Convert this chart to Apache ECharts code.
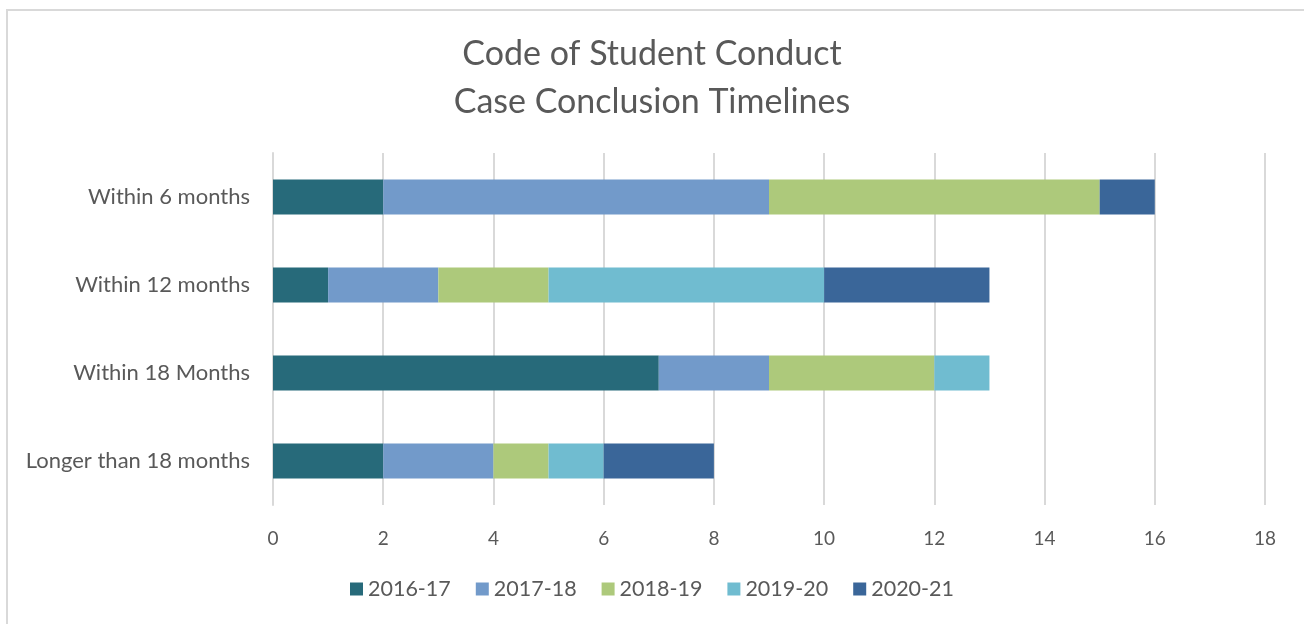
<!DOCTYPE html>
<html>
<head>
<meta charset="utf-8">
<script src="https://cdn.jsdelivr.net/npm/echarts@6/dist/echarts.min.js"></script>
<style>
  html, body { margin: 0; padding: 0; background: #fff; }
  #frame { position: absolute; left: 6px; top: 9px; width: 1310px; height: 630px; border: 2px solid #d9d9d9; box-sizing: border-box; }
  #chart { position: absolute; left: 0; top: 0; width: 1304px; height: 624px; }
</style>
</head>
<body>
<div id="frame"></div>
<div id="chart"></div>
<script>
const categories = ['Within 6 months', 'Within 12 months', 'Within 18 Months', 'Longer than 18 months']
const seriesNames = ['2016-17', '2017-18', '2018-19', '2019-20', '2020-21']
const y2016 = [2, 1, 7, 2]
const y2017 = [7, 2, 2, 2]
const y2018 = [6, 2, 3, 1]
const y2019 = [0, 5, 1, 1]
const y2020 = [1, 3, 0, 2]
const xTicks = [0, 2, 4, 6, 8, 10, 12, 14, 16, 18]

const colors = ['#276a7a', '#729aca', '#adc97b', '#70bcd0', '#3a6699']
const values = [y2016, y2017, y2018, y2019, y2020]
const font = 'Lato, "Open Sans", sans-serif'

const chart = echarts.init(document.getElementById('chart'))
chart.setOption({
  animation: false,
  textStyle: { fontFamily: font },
  title: {
    text: 'Code of Student Conduct\nCase Conclusion Timelines',
    left: 'center',
    top: 25,
    textStyle: { fontSize: 34, fontWeight: 'normal', color: '#595959', lineHeight: 48, fontFamily: font }
  },
  legend: {
    bottom: 19,
    left: 'center',
    itemWidth: 13,
    itemHeight: 13,
    itemGap: 25,
    icon: 'rect',
    textStyle: { fontSize: 21.5, color: '#595959', fontFamily: font },
    data: seriesNames
  },
  grid: { left: 273, right: 39, top: 153, height: 352, containLabel: false },
  xAxis: {
    type: 'value',
    min: xTicks[0],
    max: xTicks[xTicks.length - 1],
    interval: 2,
    axisLine: { show: false },
    axisTick: { show: false },
    splitLine: { lineStyle: { color: '#d9d9d9', width: 2 } },
    axisLabel: { fontSize: 19, color: '#595959', margin: 24, fontFamily: font }
  },
  yAxis: {
    type: 'category',
    inverse: true,
    data: categories,
    axisLine: { show: true, lineStyle: { color: '#d9d9d9', width: 2 } },
    axisTick: { show: false },
    axisLabel: { fontSize: 22, color: '#595959', margin: 23, fontFamily: font }
  },
  series: seriesNames.map((name, i) => ({
    name: name,
    type: 'bar',
    stack: 'total',
    barWidth: 35,
    itemStyle: { color: colors[i] },
    data: values[i]
  }))
})
</script>
</body>
</html>
